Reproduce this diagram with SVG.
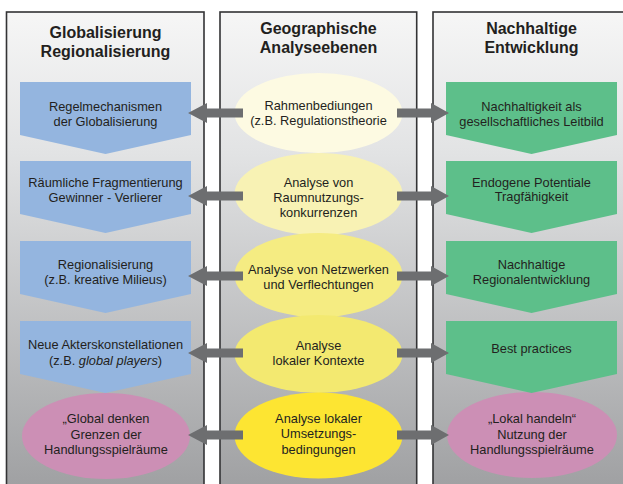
<svg xmlns="http://www.w3.org/2000/svg" width="623" height="484" viewBox="0 0 623 484">
<defs>
<linearGradient id="panelGrad" gradientUnits="userSpaceOnUse" x1="0" y1="12" x2="0" y2="484">
<stop offset="0" stop-color="#f6f6f6"/>
<stop offset="0.3" stop-color="#e2e3e4"/>
<stop offset="1" stop-color="#a0a1a3"/>
</linearGradient>
<style>
.panel{fill:url(#panelGrad);stroke:#333335;stroke-width:1.6}
.head{font-family:"Liberation Sans",Arial,Helvetica,sans-serif;font-weight:bold;font-size:16px;fill:#231f20;text-anchor:middle}
.t{font-family:"Liberation Sans",Arial,Helvetica,sans-serif;font-size:12.8px;fill:#231f20;text-anchor:middle}
.blue{fill:#94b5df}
.green{fill:#5dbf8a}
.pink{fill:#cc8fb5}
.arrow{fill:#6d6e70}
</style>
</defs>
<rect width="623" height="484" fill="#ffffff"/>

<g id="panel-left">
<rect class="panel" x="6.5" y="12" width="197.5" height="480"/>
<text class="head" x="105.5" y="38">Globalisierung</text>
<text class="head" x="105.5" y="57">Regionalisierung</text>
</g>
<g id="panel-middle">
<rect class="panel" x="220" y="12" width="196.7" height="480"/>
<text class="head" x="318.5" y="33.5">Geographische</text>
<text class="head" x="318.5" y="53">Analyseebenen</text>
</g>
<g id="panel-right">
<rect class="panel" x="433" y="12" width="197" height="480"/>
<text class="head" x="531.5" y="33.5">Nachhaltige</text>
<text class="head" x="531.5" y="53">Entwicklung</text>
</g>

<g id="left-global-denken">
<ellipse class="pink" cx="106" cy="436" rx="84" ry="43"/>
<text class="t" x="106" y="423">„Global denken</text>
<text class="t" x="106" y="438.5">Grenzen der</text>
<text class="t" x="106" y="454">Handlungsspielräume</text>
</g>
<g id="left-regelmechanismen">
<polygon class="blue" points="20,82 191,82 191,135 105.5,154 20,135"/>
<text class="t" x="105.5" y="111">Regelmechanismen</text>
<text class="t" x="105.5" y="126">der Globalisierung</text>
</g>
<g id="left-fragmentierung">
<polygon class="blue" points="20,161 191,161 191,214 105.5,233 20,214"/>
<text class="t" x="105.5" y="187">Räumliche Fragmentierung</text>
<text class="t" x="105.5" y="201.5">Gewinner - Verlierer</text>
</g>
<g id="left-regionalisierung">
<polygon class="blue" points="20,241 191,241 191,294 105.5,313 20,294"/>
<text class="t" x="105.5" y="269">Regionalisierung</text>
<text class="t" x="105.5" y="284">(z.B. kreative Milieus)</text>
</g>
<g id="left-akteure">
<polygon class="blue" points="20,321 191,321 191,374 105.5,393 20,374"/>
<text class="t" x="105.5" y="349">Neue Akterskonstellationen</text>
<text class="t" x="105.5" y="364.5">(z.B. <tspan font-style="italic">global players</tspan>)</text>
</g>

<g id="mid-rahmen">
<ellipse cx="318.5" cy="113" rx="84" ry="40" fill="#fdfae2"/>
<text class="t" x="318.5" y="110">Rahmenbediungen</text>
<text class="t" x="318.5" y="125">(z.B. Regulationstheorie</text>
</g>
<g id="mid-raumnutzung">
<ellipse cx="318.5" cy="194" rx="84" ry="41" fill="#f8f2b4"/>
<text class="t" x="318.5" y="187">Analyse von</text>
<text class="t" x="318.5" y="202">Raumnutzungs-</text>
<text class="t" x="318.5" y="217">konkurrenzen</text>
</g>
<g id="mid-netzwerke">
<ellipse cx="318.5" cy="275" rx="84" ry="42" fill="#f5ec82"/>
<text class="t" x="318.5" y="274">Analyse von Netzwerken</text>
<text class="t" x="318.5" y="289">und Verflechtungen</text>
</g>
<g id="mid-kontexte">
<ellipse cx="318.5" cy="354" rx="84" ry="39" fill="#f3e970"/>
<text class="t" x="318.5" y="349.5">Analyse</text>
<text class="t" x="318.5" y="365">lokaler Kontexte</text>
</g>
<g id="mid-umsetzung">
<ellipse cx="318.5" cy="435.5" rx="84" ry="43" fill="#fde532"/>
<text class="t" x="318.5" y="422.5">Analyse lokaler</text>
<text class="t" x="318.5" y="438">Umsetzungs-</text>
<text class="t" x="318.5" y="453.5">bedingungen</text>
</g>

<g id="right-lokal-handeln">
<ellipse class="pink" cx="532" cy="435" rx="85" ry="43"/>
<text class="t" x="532" y="423">„Lokal handeln“</text>
<text class="t" x="532" y="438.5">Nutzung der</text>
<text class="t" x="532" y="454">Handlungsspielräume</text>
</g>
<g id="right-leitbild">
<polygon class="green" points="446,82 617,82 617,135 531.5,154 446,135"/>
<text class="t" x="531.5" y="111">Nachhaltigkeit als</text>
<text class="t" x="531.5" y="126">gesellschaftliches Leitbild</text>
</g>
<g id="right-potentiale">
<polygon class="green" points="446,161 617,161 617,214 531.5,233 446,214"/>
<text class="t" x="531.5" y="186.5">Endogene Potentiale</text>
<text class="t" x="531.5" y="201">Tragfähigkeit</text>
</g>
<g id="right-regionalentwicklung">
<polygon class="green" points="446,241 617,241 617,294 531.5,313 446,294"/>
<text class="t" x="531.5" y="269">Nachhaltige</text>
<text class="t" x="531.5" y="284">Regionalentwicklung</text>
</g>
<g id="right-best-practices">
<polygon class="green" points="446,321 617,321 617,374 531.5,393 446,374"/>
<text class="t" x="531.5" y="353">Best practices</text>
</g>

<g id="connectors">
<polygon class="arrow" points="243,108.5 207,108.5 207,103 188,113 207,123 207,117.5 243,117.5"/>
<polygon class="arrow" points="397,108.5 431,108.5 431,103 449,113 431,123 431,117.5 397,117.5"/>
<polygon class="arrow" points="243,191.5 207,191.5 207,186 188,196 207,206 207,200.5 243,200.5"/>
<polygon class="arrow" points="397,191.5 431,191.5 431,186 449,196 431,206 431,200.5 397,200.5"/>
<polygon class="arrow" points="243,271.5 207,271.5 207,266 188,276 207,286 207,280.5 243,280.5"/>
<polygon class="arrow" points="397,271.5 431,271.5 431,266 449,276 431,286 431,280.5 397,280.5"/>
<polygon class="arrow" points="243,348.5 207,348.5 207,343 188,353 207,363 207,357.5 243,357.5"/>
<polygon class="arrow" points="397,348.5 431,348.5 431,343 449,353 431,363 431,357.5 397,357.5"/>
<polygon class="arrow" points="243,430.5 207,430.5 207,425 188,435 207,445 207,439.5 243,439.5"/>
<polygon class="arrow" points="397,430.5 431,430.5 431,425 449,435 431,445 431,439.5 397,439.5"/>
</g>
</svg>
